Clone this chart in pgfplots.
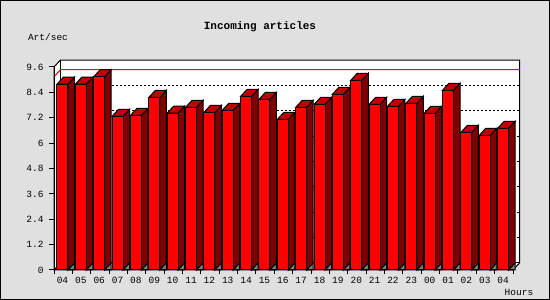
\documentclass[border=0pt]{standalone}
\usepackage{fontspec}
\setmonofont{Liberation Mono}
\usepackage{pgfplots}
\usepackage{pgfplotstable}
\pgfplotsset{compat=1.18}
\definecolor{bgcol}{RGB}{224,224,224}
\definecolor{sidered}{RGB}{128,0,0}
\definecolor{topred}{RGB}{192,0,0}
\definecolor{frontred}{RGB}{255,0,0}
\definecolor{floorgray}{RGB}{128,128,128}
\newcommand\lab{\ttfamily\fontsize{9.5}{10}\selectfont}

\pgfplotstableread{
lab v
04 8.79
05 8.79
06 9.14
07 7.27
08 7.31
09 8.16
10 7.42
11 7.69
12 7.45
13 7.55
14 8.21
15 8.07
16 7.12
17 7.69
18 7.83
19 8.31
20 8.97
21 7.83
22 7.74
23 7.88
00 7.41
01 8.50
02 6.51
03 6.37
04 6.70
}\data

\begin{document}
\begin{tikzpicture}
\fill[bgcol] (0pt,0pt) rectangle (550pt,300pt);
\draw[black,line width=1pt] (0.5pt,0.5pt) rectangle (549.5pt,299.5pt);
\begin{axis}[
  at={(54pt,30pt)}, anchor=south west,
  scale only axis, width=459pt, height=203pt,
  xmin=0, xmax=25, ymin=0, ymax=9.6,
  clip=false,
  axis on top,
  axis x line*=bottom, axis y line*=left,
  axis line style={-, line width=1pt, black},
  tick align=outside,
  major tick length=4.5pt,
  tick style={line width=1pt, black},
  xtick={0,...,25},
  xticklabels={04,05,06,07,08,09,10,11,12,13,14,15,16,17,18,19,20,21,22,23,00,01,02,03,04,{}},
  xticklabel style={xshift=8.5pt, yshift=1pt},
  yticklabel style={xshift=-2.5pt},
  ytick={0,1.2,2.4,3.6,4.8,6,7.2,8.4,9.6},
  tick label style={font=\lab},
  /pgf/number format/assume math mode=true,
]
% plot area (front, left wall, back wall)
\draw[fill=white, draw=black, line width=1pt] (axis cs:0,0) -- (axis cs:0,9.6) -- (axis cs:0.354,9.931) -- (axis cs:25.354,9.931) -- (axis cs:25.354,0.331) -- (axis cs:25,0) -- cycle;
\draw[black, line width=1pt] (axis cs:0.354,9.931) -- (axis cs:0.354,0.331) -- (axis cs:25.354,0.331);
\draw[black, line width=1pt] (axis cs:0,0) -- (axis cs:0.354,0.331);
% dotted grid on back wall
\pgfplotsinvokeforeach{1.531,2.731,3.931,5.131,6.331,7.531,8.731}{
  \draw[black, line width=1pt, dash pattern=on 2pt off 2pt] (axis cs:0.354,#1) -- (axis cs:25.354,#1);
  \draw[black, line width=1pt] (axis cs:25.354,#1) -- ++(-3pt,0pt);
}
% max line
\draw[red, line width=1pt] (axis cs:0,9.14) -- (axis cs:0.354,9.471) -- (axis cs:25.354,9.471);
% bars
\pgfplotsinvokeforeach{0,...,24}{
  \pgfplotstablegetelem{#1}{v}\of\data
  \pgfmathsetmacro{\va}{\pgfplotsretval}
  \pgfmathsetmacro{\vb}{\pgfplotsretval+0.331}
  \pgfmathsetmacro{\xa}{#1+0.163}
  \pgfmathsetmacro{\xb}{#1+0.762}
  \pgfmathsetmacro{\xc}{#1+0.163+0.354}
  \pgfmathsetmacro{\xd}{#1+0.762+0.354}
  \edef\bars{%
    \noexpand\addplot[draw=black, fill=sidered, line width=1pt] coordinates {(\xb,0) (\xb,\va) (\xd,\vb) (\xd,0.331)} -- cycle;
    \noexpand\addplot[draw=black, fill=floorgray, line width=1pt] coordinates {(\xb,0) (\xd,0.331) (\xd,0)} -- cycle;
    \noexpand\addplot[draw=black, fill=topred, line width=1pt] coordinates {(\xa,\va) (\xb,\va) (\xd,\vb) (\xc,\vb)} -- cycle;
    \noexpand\addplot[draw=black, fill=frontred, line width=1pt] coordinates {(\xa,0) (\xb,0) (\xb,\va) (\xa,\va)} -- cycle;
  }%
  \bars
}
\end{axis}
\node[font=\ttfamily\bfseries\fontsize{11}{12}\selectfont] at (260pt,273pt) {Incoming articles};
\node[font=\lab] at (48pt,263pt) {Art/sec};
\node[font=\lab] at (519pt,8pt) {Hours};
\end{tikzpicture}
\end{document}
